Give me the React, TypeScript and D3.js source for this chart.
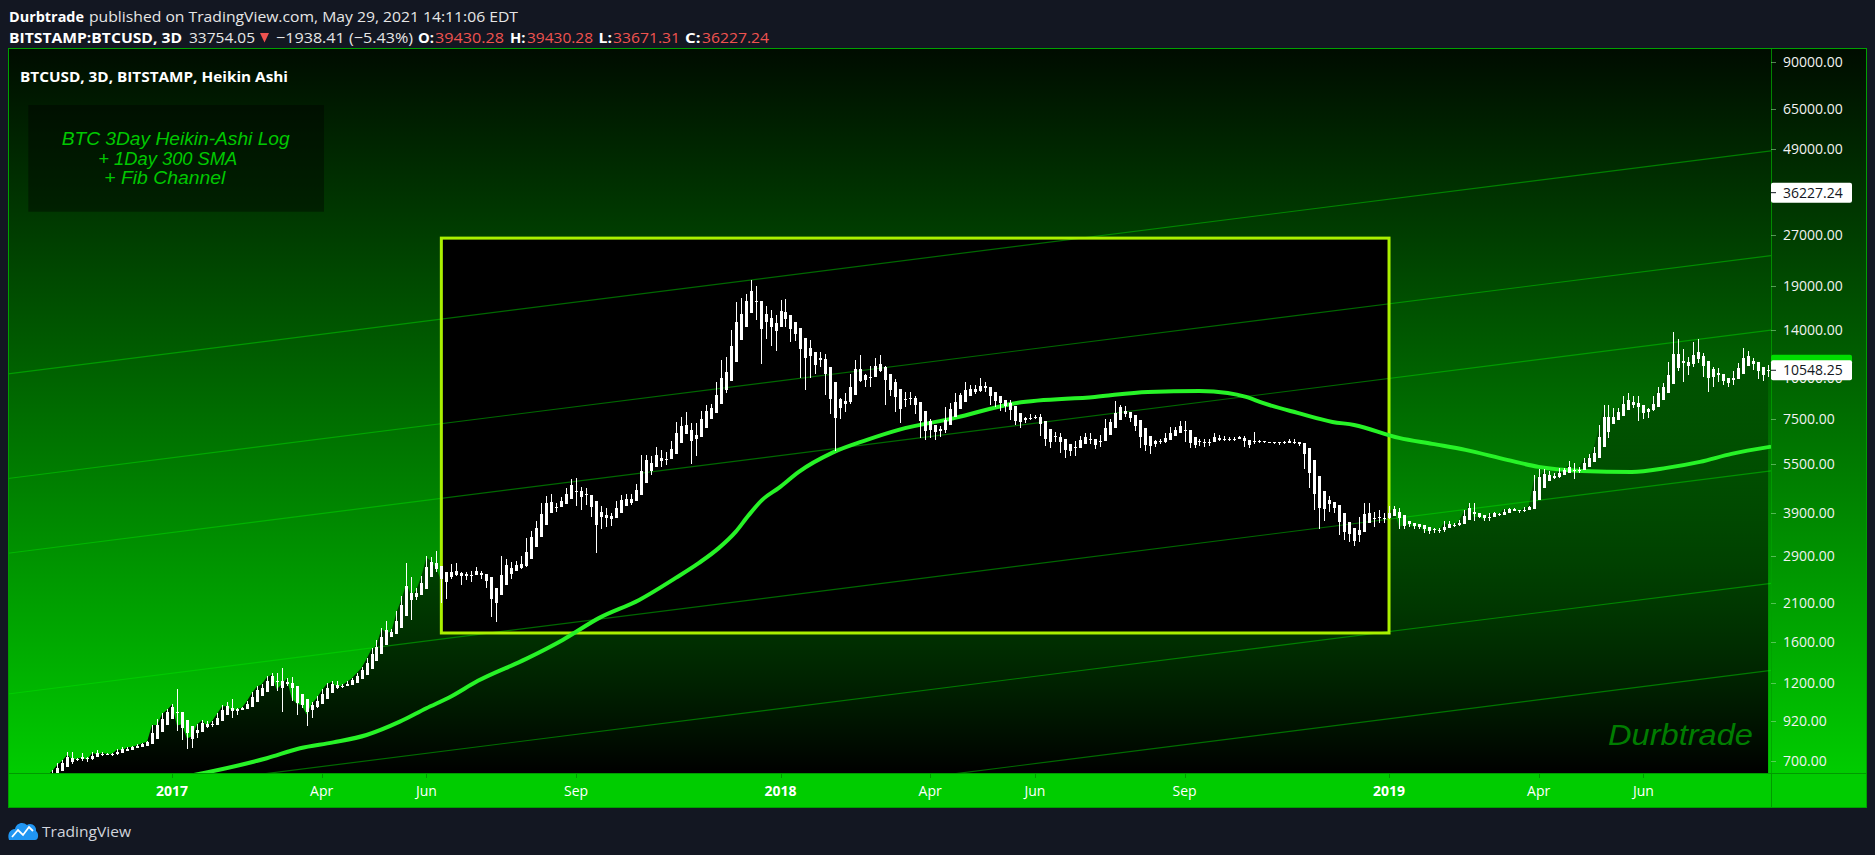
import React, { useMemo } from 'react';
import * as d3 from 'd3';

// ---------------- data ----------------
const barStart = '2016-09-24';
const barStepDays = 3;
const firstOpen = 602;

const close2016 = [606,609,611,612,617,637,638,637,632,652,681,700,730,703,711,714,705,740,731,739,733,734,756,753,768,770,779,790,799,898,895,968,995];
const high2016 = [610,611,614,614,620,641,641,642,640,656,688,705,744,742,714,740,716,745,752,742,741,739,760,772,771,775,784,792,803,900,933,975,1000];
const low2016 = [600,603,605,608,610,615,633,633,626,628,648,678,695,685,700,700,696,703,725,725,728,725,730,750,750,765,766,776,786,795,855,890,960];

const close2017 = [1035,894,902,817,830,900,925,893,920,968,
  1020,1023,990,1000,1012,1058,1120,1170,1190,1250,
  1272,1150,1190,1240,1080,1040,1030,965,1040,1080,
  1140,1190,1210,1170,1180,1210,1240,1285,1335,1420,
  1520,1560,1750,1700,1720,1960,2150,2400,2200,2300,
  2520,2870,2800,2650,2450,2500,2650,2550,2580,2480,
  2600,2600,2500,2400,1930,2300,2700,2750,2700,2750,
  2700,3250,3420,3650,4100,4370,4050,4150,4350,4600,
  4900,4250,4600,4300,3850,3700,3900,3600,3900,4200,
  4400,4200,4450,4750,5600,5700,5600,6000,5500,5800,
  6400,7100,7000,7100,5900,7200,7800,8100,8200,9600,
  10000,11200,13700,15000,17000,17500,18900,15500,13800,15500,
  13000,14800];
const high2017 = [1040,1150,915,910,838,904,927,925,925,972,
  1030,1050,1078,1010,1020,1063,1125,1175,1195,1260,
  1290,1285,1330,1245,1255,1105,1055,1045,1050,1095,
  1150,1200,1215,1220,1190,1215,1245,1290,1340,1430,
  1530,1620,1760,1850,1750,1980,2200,2760,2500,2320,
  2530,2900,2880,3000,2700,2580,2750,2760,2600,2600,
  2620,2680,2620,2530,2400,2320,2900,2850,2780,2800,
  2900,3280,3450,3700,4200,4400,4480,4200,4380,4650,
  4950,4980,4690,4650,4350,3900,4100,4050,3920,4250,
  4420,4450,4470,4800,5850,5850,5800,6170,6050,5980,
  6450,7350,7600,7880,7300,7300,7950,8300,8350,9700,
  11300,11600,14000,17000,17400,17900,19700,19000,16000,16500,
  16000,15500];
const low2017 = [990,860,810,760,765,822,880,880,886,915,
  965,1005,940,960,993,1005,1050,1110,1100,1180,
  1230,1140,980,1175,1060,960,1010,890,940,1010,
  1075,1120,1170,1150,1160,1175,1200,1230,1280,1320,
  1410,1480,1550,1650,1690,1710,1940,2140,1860,2140,
  2290,2480,2620,2600,2100,2150,2480,2520,2380,2450,
  2430,2570,2480,2330,1900,1840,2250,2640,2480,2650,
  2650,2680,3150,3380,3600,3950,3960,3950,4100,4300,
  4550,4100,4000,4150,3800,2970,3500,3550,3580,3880,
  4100,4150,4150,4420,4730,5450,5100,5600,5400,5450,
  5700,6350,6950,6900,5500,5800,7100,7700,7900,8100,
  9000,9000,11100,13500,13000,16000,17200,15000,11000,13100,
  12500,12100];

const close2018 = [17000,14900,13400,13600,11200,12800,10800,11200,11200,9100,
  8200,7600,8600,8600,10200,11100,10000,9700,10300,11400,
  10700,9400,9100,8200,8200,8900,8600,7900,6900,7000,
  6800,7000,6900,8000,8000,8900,8900,9300,9400,9200,
  9700,9200,8400,8700,8000,8500,7500,7350,7500,7500,
  7600,7700,6800,6300,6500,6750,6050,6200,5900,6400,
  6600,6750,6400,6250,6700,7350,7400,8200,8200,7700,
  7400,6950,6300,6300,6250,6400,6500,6700,6900,7000,
  7300,6500,6200,6300,6500,6250,6500,6700,6500,6600,
  6500,6600,6650,6250,6300,6450,6400,6400,6400,6350,
  6350,6450,6500,6350,6300,5600,4700,4300,3900,4200,
  4100,3950,3400,3450,3250,3200,3700,3950,3750,3850,
  3700,3800];
const high2018 = [17200,17300,15000,14300,14100,12900,13000,11600,12000,11800,
  9500,8400,8700,9000,10300,11300,11700,10300,10900,11500,
  11700,10900,9500,9900,8500,9100,9100,8800,8200,7200,
  7500,7100,7150,8200,8400,9000,9000,9750,9500,9500,
  9990,9750,9400,8800,8850,8550,8550,7650,7550,7650,
  7780,7750,7770,6900,6600,6850,6800,6300,6250,6450,
  6700,6800,6800,6400,6750,7500,7500,8500,8300,8250,
  7750,7450,7150,6550,6550,6500,6550,6800,7100,7100,
  7400,7400,6550,6380,6550,6550,6550,6800,6750,6700,
  6650,6650,6700,6700,6400,6850,6500,6450,6430,6420,
  6400,6470,6550,6550,6400,6350,5650,4800,4550,4300,
  4400,4200,4000,3600,3600,3300,3800,4200,4200,3950,
  4000,3900];
const low2018 = [14500,14200,12800,12900,10000,9200,10000,10300,10800,8900,
  7800,6000,7500,7900,8350,10000,9700,9400,9400,10300,
  10400,8300,8800,7900,7300,8150,8300,7800,6600,6500,
  6600,6500,6650,6800,7850,7900,8700,8800,8900,8950,
  9050,9050,8300,8200,7950,7900,7450,7200,7050,7300,
  7450,7500,6700,6250,6150,6400,5950,5750,5800,5800,
  6300,6450,6300,6100,6200,6650,7200,7350,7900,7600,
  7350,6900,6150,6000,5900,6200,6300,6350,6650,6850,
  6950,6400,6150,6150,6250,6200,6250,6450,6450,6450,
  6450,6450,6550,6200,6150,6300,6380,6360,6370,6300,
  6280,6320,6380,6300,6250,5300,4650,4000,3500,3700,
  3950,3900,3350,3250,3200,3120,3200,3700,3700,3550,
  3650,3650];

const close2019 = [4000,4000,3550,3600,3600,3550,3580,3450,3450,3500,
  3450,3650,3600,3600,3700,3950,4100,3800,3820,3720,
  3880,3920,3870,4020,4000,4000,3950,4050,4100,4900,
  5050,5200,5050,5050,5250,5300,5450,5200,5350,5700,
  5750,6150,7000,8200,7300,7950,8000,8750,8300,8700,
  7800,7950,8000,8700,9300,9500,10800,11800,11900,10600,
  11000,12300,11400,10200,9700,10500,9800,9850,9600,10400,
  10900,11900,11300,10800,10350,10300,10843];
const high2019 = [4100,4100,4050,3650,3700,3650,3600,3600,3500,3520,
  3520,3700,3690,3650,3720,3990,4200,4200,3860,3850,
  3900,3950,3920,4030,4050,4060,4000,4070,4120,5100,
  5300,5300,5250,5150,5350,5350,5600,5550,5380,5750,
  5900,6200,7200,8300,8300,8100,8100,8850,9000,8800,
  8800,8100,8100,8800,9400,9650,11200,13800,13100,12200,
  11600,12800,13100,11900,11000,10800,10700,10000,9900,10500,
  11100,12300,12100,11500,10900,10500,10950];
const low2019 = [3750,3950,3500,3500,3550,3500,3500,3400,3380,3400,
  3400,3420,3580,3560,3580,3680,3900,3700,3780,3700,
  3700,3850,3840,3850,3980,3980,3900,3930,4050,4100,
  4850,5000,4950,4950,4980,5150,5250,4950,5150,5300,
  5600,5650,6100,6900,6600,7250,7500,7850,8150,8100,
  7400,7500,7550,7950,8650,9050,9450,10700,10500,9700,
  10200,10800,11100,10100,9100,9400,9700,9500,9400,9500,
  10350,10800,11200,10600,9900,9800,10100];

// 1 Day 300 SMA
const smaDates = ['2017-01-05','2017-01-21','2017-02-27','2017-03-19','2017-04-08','2017-04-28','2017-05-18','2017-06-03','2017-06-17','2017-07-04',
  '2017-08-02','2017-08-24','2017-09-15','2017-10-09','2017-10-31','2017-11-14','2017-11-26','2017-12-06','2017-12-14','2017-12-22',
  '2018-01-01','2018-01-13','2018-02-02','2018-02-23','2018-03-14','2018-04-17','2018-05-24','2018-07-10','2018-08-11','2018-09-11',
  '2018-09-28','2018-10-09','2018-10-19','2018-11-09','2018-11-30','2018-12-13','2019-01-09','2019-01-29','2019-02-18','2019-03-15',
  '2019-04-03','2019-04-29','2019-05-29','2019-06-19','2019-07-09','2019-07-28','2019-08-20'];
const smaValues = [621,644,712,763,795,837,918,1008,1088,1219,
  1420,1620,1888,2139,2493,2767,3071,3432,3862,4286,
  4659,5207,5940,6502,6970,7576,8408,8766,9075,9139,
  9013,8766,8408,7844,7368,7216,6593,6324,6066,5659,
  5391,5243,5207,5354,5581,5900,6194];

// Fib channel: price of each level at two anchor dates
const channelDates = ['2016-09-24', '2019-08-19'];
const channelStart = [10275, 4970, 2957, 1112, 510, 278];
const channelEnd = [48330, 23350, 13910, 5232, 2395, 1307];

// rectangle drawing
const boxDates = ['2017-06-12', '2019-01-03'];
const boxPrices = [26420, 1700];

const priceTicks = [90000, 65000, 49000, 36000, 27000, 19000, 14000, 10000, 7500, 5500, 3900, 2900, 2100, 1600, 1200, 920, 700];
const timeTickDates = ['2017-01-01','2017-04-01','2017-06-03','2017-09-01','2018-01-02','2018-04-02','2018-06-04','2018-09-02','2019-01-03','2019-04-03','2019-06-05'];
const timeTickLabels = ['2017','Apr','Jun','Sep','2018','Apr','Jun','Sep','2019','Apr','Jun'];

const currentPrice = 36227.24;

// ---------------- layout ----------------
const W = 1875, H = 855;
const PX0 = 8, PX1 = 1771, PY0 = 48, PY1 = 773;
const AXR = 1867, STRIP = 808;
const FONT = "'Open Sans', 'Noto Sans', sans-serif";
const IFONT = "'Liberation Sans', Arial, sans-serif";

export default function App() {
  const m = useMemo(() => {
    const parse = d3.utcParse('%Y-%m-%d');
    const closes = [...close2016, ...close2017, ...close2018, ...close2019];
    const highs = [...high2016, ...high2017, ...high2018, ...high2019];
    const lows = [...low2016, ...low2017, ...low2018, ...low2019];
    const start = parse(barStart) as Date;
    const x = d3.scaleUtc().domain([start, parse('2019-08-19') as Date]).range([7.4, 1768.1]);
    const y = d3.scaleLog().domain([700, 90000]).range([760.7, 61.7]);

    const bars: any[] = [];
    let pO = 0, pC = 0;
    for (let i = 0; i < closes.length; i++) {
      const o = i === 0 ? firstOpen : closes[i - 1];
      const c = closes[i], h = highs[i], l = lows[i];
      const haC = (o + h + l + c) / 4;
      const haO = i === 0 ? (o + c) / 2 : (pO + pC) / 2;
      bars.push({
        date: d3.utcDay.offset(start, i * barStepDays),
        o: haO, c: haC, h: Math.max(h, haO, haC), l: Math.min(l, haO, haC), close: c,
      });
      pO = haO; pC = haC;
    }

    const area = d3.area<any>().x((d) => x(d.date)).y0(PY1).y1((d) => y(d.close))(bars) as string;
    const smaPts = smaDates.map((d, i) => [x(parse(d) as Date), y(smaValues[i])] as [number, number]);
    const sma = d3.line().curve(d3.curveMonotoneX)(smaPts) as string;

    const d0 = parse(channelDates[0]) as Date, d1 = parse(channelDates[1]) as Date;
    const channel = channelStart.map((v, i) => {
      const x0 = x(d0), y0 = y(v), x1 = x(d1), y1 = y(channelEnd[i]);
      const k = (y1 - y0) / (x1 - x0);
      return { xa: 0, ya: y0 + k * (0 - x0), xb: 1790, yb: y0 + k * (1790 - x0) };
    });

    const box = {
      x0: x(parse(boxDates[0]) as Date), x1: x(parse(boxDates[1]) as Date),
      y0: y(boxPrices[0]), y1: y(boxPrices[1]),
    };
    const tticks = timeTickDates.map((d, i) => ({ x: x(parse(d) as Date), label: timeTickLabels[i], year: /^\d{4}$/.test(timeTickLabels[i]) }));
    const pticks = priceTicks.map((v) => ({ y: y(v), label: d3.format('.2f')(v) }));
    const last = bars[bars.length - 1];
    return { x, y, bars, area, sma, channel, box, tticks, pticks, lastHa: last.c };
  }, []);

  const fmt = d3.format('.2f');
  const curY = m.y(currentPrice);
  const lastY = m.y(m.lastHa);

  return (
    <svg width={W} height={H} viewBox={`0 0 ${W} ${H}`} style={{ position: 'absolute', left: 0, top: 0, display: 'block' }}>
      <defs>
        <linearGradient id="bg" gradientUnits="userSpaceOnUse" x1="0" y1={PY0} x2="0" y2={PY1}>
          <stop offset="0" stopColor="rgb(0,12,0)" />
          <stop offset="1" stopColor="rgb(0,204,0)" />
        </linearGradient>
        <linearGradient id="areaG" gradientUnits="userSpaceOnUse" x1="0" y1="290" x2="0" y2={PY1}>
          <stop offset="0" stopColor="#000" stopOpacity="0" />
          <stop offset="1" stopColor="#000" stopOpacity="1" />
        </linearGradient>
        <clipPath id="pane"><rect x={PX0} y={PY0} width={PX1 - PX0} height={PY1 - PY0} /></clipPath>
      </defs>

      <rect x="0" y="0" width={W} height={H} fill="#131722" />

      {/* header */}
      <g fontFamily={FONT} fontSize="15" fill="#e6e6e6">
        <text x="9" y="21.5" fontWeight="700" fill="#fff" textLength="75" lengthAdjust="spacingAndGlyphs">Durbtrade</text>
        <text x="89" y="21.5" textLength="429" lengthAdjust="spacingAndGlyphs">published on TradingView.com, May 29, 2021 14:11:06 EDT</text>
        <text x="9" y="43" fontWeight="700" fill="#fff" textLength="173" lengthAdjust="spacingAndGlyphs">BITSTAMP:BTCUSD, 3D</text>
        <text x="189" y="43" textLength="66" lengthAdjust="spacingAndGlyphs">33754.05</text>
        <polygon points="260,33 269,33 264.5,42.5" fill="#ef5350" />
        <text x="276" y="43" textLength="137" lengthAdjust="spacingAndGlyphs">−1938.41 (−5.43%)</text>
        <text x="418" y="43" fontWeight="700" fill="#fff" textLength="16" lengthAdjust="spacingAndGlyphs">O:</text>
        <text x="435" y="43" fill="#ef5350" textLength="69" lengthAdjust="spacingAndGlyphs">39430.28</text>
        <text x="510" y="43" fontWeight="700" fill="#fff" textLength="15.5" lengthAdjust="spacingAndGlyphs">H:</text>
        <text x="527" y="43" fill="#ef5350" textLength="66" lengthAdjust="spacingAndGlyphs">39430.28</text>
        <text x="598.5" y="43" fontWeight="700" fill="#fff" textLength="13.5" lengthAdjust="spacingAndGlyphs">L:</text>
        <text x="613" y="43" fill="#ef5350" textLength="67" lengthAdjust="spacingAndGlyphs">33671.31</text>
        <text x="685" y="43" fontWeight="700" fill="#fff" textLength="15.5" lengthAdjust="spacingAndGlyphs">C:</text>
        <text x="702" y="43" fill="#ef5350" textLength="67" lengthAdjust="spacingAndGlyphs">{fmt(currentPrice)}</text>
      </g>

      {/* background of pane + price axis */}
      <rect x={PX0} y={PY0} width={AXR - PX0} height={PY1 - PY0} fill="url(#bg)" />

      <g clipPath="url(#pane)">
        <path d={m.area} fill="url(#areaG)" />
        <rect x={m.box.x0} y={m.box.y0} width={m.box.x1 - m.box.x0} height={m.box.y1 - m.box.y0} fill="#000" />
        {m.channel.map((c, i) => (
          <line key={i} x1={c.xa} y1={c.ya} x2={c.xb} y2={c.yb} stroke="rgba(0,230,0,0.45)" strokeWidth="1.2" />
        ))}
        <rect x={m.box.x0} y={m.box.y0} width={m.box.x1 - m.box.x0} height={m.box.y1 - m.box.y0} fill="none" stroke="#aaf000" strokeWidth="3" />
        <path d={m.sma} fill="none" stroke="#27f327" strokeWidth="4" strokeLinejoin="round" strokeLinecap="round" />
        <g fill="#ffffff" shapeRendering="crispEdges">
          {m.bars.map((b: any, i: number) => {
            const cx = Math.round(m.x(b.date));
            const top = m.y(Math.max(b.o, b.c));
            const bot = m.y(Math.min(b.o, b.c));
            const hy = m.y(b.h), ly = m.y(b.l);
            return (
              <g key={i}>
                <rect x={cx} y={hy} width={1} height={Math.max(1, ly - hy)} />
                <rect x={cx - 1} y={top} width={3} height={Math.max(1, bot - top)} />
              </g>
            );
          })}
        </g>
        <text x="20" y="81.5" fontFamily={FONT} fontSize="14" fontWeight="700" fill="#ffffff" textLength="268" lengthAdjust="spacingAndGlyphs">BTCUSD, 3D, BITSTAMP, Heikin Ashi</text>
        <rect x="28.3" y="105" width="295.7" height="106.7" fill="rgba(0,0,0,0.4)" />
        <g fontFamily={IFONT} fontStyle="italic" fontSize="19" fill="#00c800">
          <text x="61.7" y="145" textLength="228" lengthAdjust="spacingAndGlyphs">BTC 3Day Heikin-Ashi Log</text>
          <text x="98.3" y="164.5" textLength="139" lengthAdjust="spacingAndGlyphs">+ 1Day 300 SMA</text>
          <text x="104.3" y="184" textLength="121" lengthAdjust="spacingAndGlyphs">+ Fib Channel</text>
        </g>
        <text x="1608" y="745" fontFamily={IFONT} fontStyle="italic" fontSize="30" fill="#007d00" textLength="145" lengthAdjust="spacingAndGlyphs">Durbtrade</text>
      </g>

      {/* price axis */}
      <line x1={PX1 + 0.5} y1={PY0} x2={PX1 + 0.5} y2={STRIP} stroke="#00a000" strokeOpacity="0.8" />
      <g fontFamily={FONT} fontSize="14" fill="#f2f2f2">
        {m.pticks.map((t, i) => (
          <g key={i}>
            <line x1={PX1} x2={PX1 + 5} y1={Math.round(t.y) + 0.5} y2={Math.round(t.y) + 0.5} stroke="rgba(150,220,150,0.55)" />
            <text x="1783" y={t.y + 5}>{t.label}</text>
          </g>
        ))}
      </g>
      <rect x={PX1} y={lastY - 15.5} width="81" height="14" rx="2" fill="#00dd00" />
      <rect x={PX1} y={lastY - 10} width="81" height="20" rx="2" fill="#ffffff" />
      <line x1={PX1} x2={PX1 + 5} y1={lastY} y2={lastY} stroke="#131722" />
      <text x="1783" y={lastY + 5} fontFamily={FONT} fontSize="14" fill="#131722">{fmt(m.lastHa)}</text>
      <rect x={PX1} y={curY - 10} width="81" height="20" rx="2" fill="#ffffff" />
      <line x1={PX1} x2={PX1 + 5} y1={curY} y2={curY} stroke="#131722" />
      <text x="1783" y={curY + 5} fontFamily={FONT} fontSize="14" fill="#131722">{fmt(currentPrice)}</text>

      {/* time axis strip */}
      <rect x={PX0} y={PY1} width={AXR - PX0} height={STRIP - PY1} fill="#00cc00" />
      <line x1={PX0} x2={AXR} y1={PY1 + 0.5} y2={PY1 + 0.5} stroke="#009a00" />
      <line x1={PX1 + 0.5} y1={PY1} x2={PX1 + 0.5} y2={STRIP} stroke="#009a00" />
      <g fontFamily={FONT} fontSize="14" fill="#ffffff" textAnchor="middle">
        {m.tticks.map((t, i) => (
          <g key={i}>
            <line x1={Math.round(t.x) + 0.5} x2={Math.round(t.x) + 0.5} y1={PY1} y2={PY1 + 5} stroke="#009a00" />
            <text x={t.x} y="796" fontWeight={t.year ? 700 : 400}>{t.label}</text>
          </g>
        ))}
      </g>

      {/* frame */}
      <rect x={PX0 + 0.5} y={PY0 + 0.5} width={AXR - PX0 - 1} height={STRIP - PY0 - 1} fill="none" stroke="#00a000" />

      {/* footer logo */}
      <g>
        <path d="M9 840 C7 834 10 829 15 829 C16 823 23 821 27 825 C31 822 37 826 36 831 C39 833 39 840 35 840 Z" fill="#2196f3" />
        <polyline points="12,837 18,830 23,835 29,827 33,831" fill="none" stroke="#ffffff" strokeWidth="1.8" />
      </g>
      <text x="42" y="836.5" fontFamily={FONT} fontSize="15" fill="#d1d4dc" textLength="89" lengthAdjust="spacingAndGlyphs">TradingView</text>
    </svg>
  );
}
